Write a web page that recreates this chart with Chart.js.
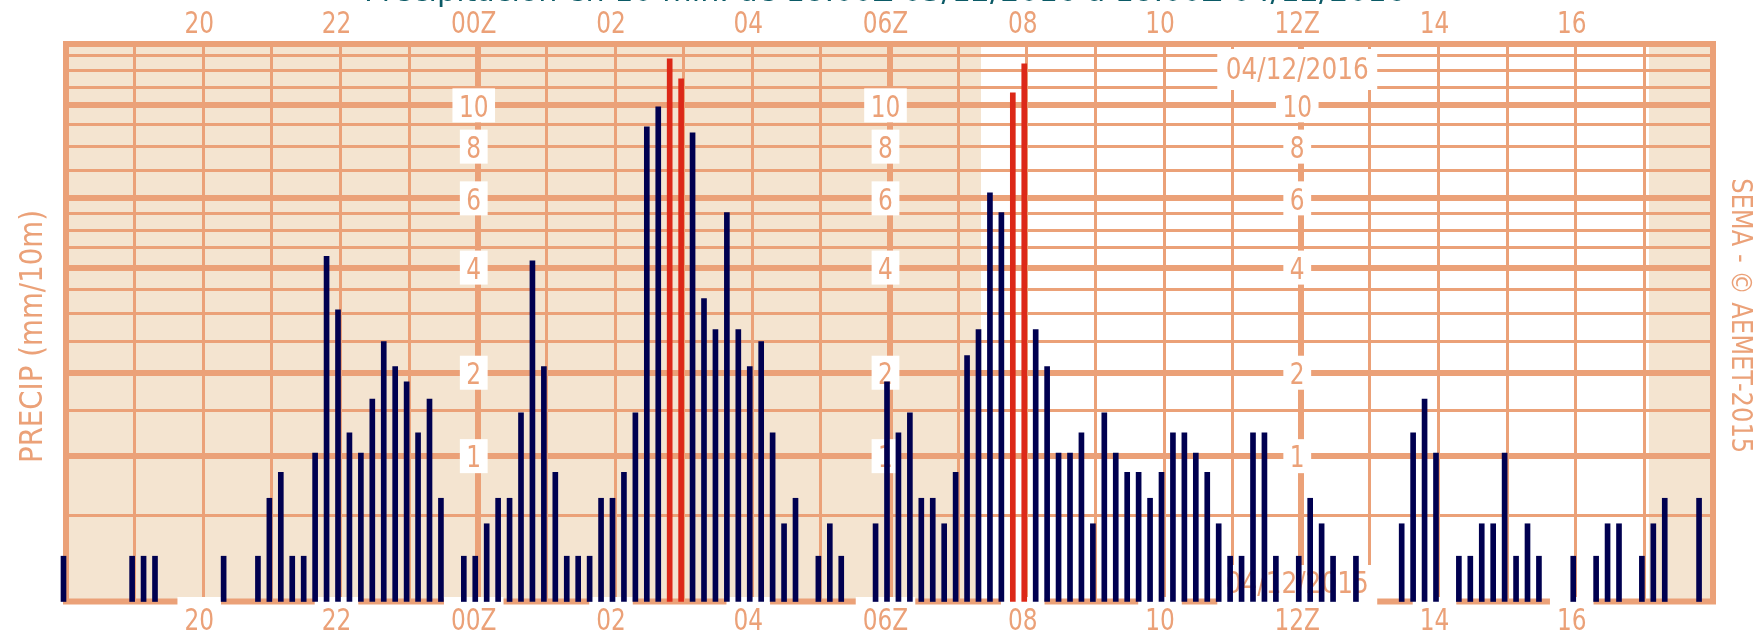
<!DOCTYPE html>
<html>
<head>
<meta charset="utf-8">
<title>Precipitación en 10 min.</title>
<script src="https://cdn.jsdelivr.net/npm/chart.js@4/dist/chart.umd.min.js"></script>
<style>
  html, body { margin: 0; padding: 0; background: #ffffff; }
  canvas { display: block; }
</style>
</head>
<body>
<canvas id="precip" width="1757" height="633"></canvas>
<script>
// ---- data: 10-minute precipitation (mm), 18:00Z 03/12 -> 18:00Z 04/12 ----
const barTimes = [
  "18:00","19:00","19:10","19:20","20:20","20:50","21:00","21:10","21:20","21:30","21:40","21:50",
  "22:00","22:10","22:20","22:30","22:40","22:50","23:00","23:10","23:20","23:30","23:50",
  "00:00","00:10","00:20","00:30","00:40","00:50","01:00","01:10","01:20","01:30","01:40","01:50",
  "02:00","02:10","02:20","02:30","02:40","02:50","03:00","03:10","03:20","03:30","03:40","03:50",
  "04:00","04:10","04:20","04:30","04:40","05:00","05:10","05:20","05:50",
  "06:00","06:10","06:20","06:30","06:40","06:50","07:00","07:10","07:20","07:30","07:40","07:50",
  "08:00","08:10","08:20","08:30","08:40","08:50","09:00","09:10","09:20","09:30","09:40","09:50",
  "10:00","10:10","10:20","10:30","10:40","10:50","11:00","11:10","11:20","11:30","11:40",
  "12:00","12:10","12:20","12:30","12:50","13:30","13:40","13:50",
  "14:00","14:20","14:30","14:40","14:50","15:00","15:10","15:20","15:30",
  "16:00","16:20","16:30","16:40","17:00","17:10","17:20","17:50"
];
const barValues = [
  0.23, 0.23, 0.23, 0.23, 0.23, 0.23, 0.63, 0.85, 0.23, 0.23, 1.03, 4.28,
  3.07, 1.24, 1.03, 1.64, 2.49, 2.09, 1.87, 1.24, 1.64, 0.63, 0.23,
  0.23, 0.44, 0.63, 0.63, 1.47, 4.17, 2.09, 0.85, 0.23, 0.23, 0.23, 0.63,
  0.63, 0.85, 1.47, 8.91, 9.92, 12.79, 11.51, 8.63, 3.30, 2.70, 5.53, 2.70,
  2.09, 2.49, 1.24, 0.44, 0.63, 0.23, 0.44, 0.23, 0.44,
  1.87, 1.24, 1.47, 0.63, 0.63, 0.44, 0.85, 2.26, 2.70, 6.19, 5.53, 10.69,
  12.46, 2.70, 2.09, 1.03, 1.03, 1.24, 0.44, 1.47, 1.03, 0.85, 0.85, 0.63,
  0.85, 1.24, 1.24, 1.03, 0.85, 0.44, 0.23, 0.23, 1.24, 1.24, 0.23,
  0.23, 0.63, 0.44, 0.23, 0.23, 0.44, 1.24, 1.64,
  1.03, 0.23, 0.23, 0.44, 0.44, 1.03, 0.23, 0.44, 0.23,
  0.23, 0.23, 0.44, 0.44, 0.23, 0.44, 0.63, 0.63
];
const highThreshold = 10;                 // values above this are drawn in red

// time axis: hours counted from 18:00Z of the first day
const axisStart = 18, axisEnd = 42;
const hourTicks      = [20, 22, 24, 26, 28, 30, 32, 34, 36, 38, 40];
const hourTickLabels = ["20", "22", "00Z", "02", "04", "06Z", "08", "10", "12Z", "14", "16"];
const majorHours     = [24, 30, 36];
const sunrise = "07:20", sunset = "17:04";

// precipitation axis (log(1+x) spacing); the frame sits a hair below zero
const yMin = -0.013, yMax = 13.82;
const yGridValues  = [0.5, 1, 1.5, 2, 2.5, 3, 3.5, 4, 4.5, 5, 5.5, 6, 7, 8, 9, 10, 11, 12, 13];
const yMajorValues = [1, 2, 4, 6, 10];
const yLabelValues = [1, 2, 4, 6, 8, 10];
const yLabelColumns = [24, 30, 36];       // 00Z, 06Z, 12Z

const titleText  = "Precipitación en 10 min. de 18:00Z 03/12/2016 a 18:00Z 04/12/2016";
const yTitleText = "PRECIP (mm/10m)";
const creditText = "SEMA - © AEMET-2015";
const dateTop = "04/12/2016", dateBottom = "04/12/2015";

// ---- styling ----
const C_GRID = '#eba178', C_TEXT = '#eba178', C_NIGHT = '#f4e4d0';
const C_BAR = '#000050', C_HIGH = '#dc2818', C_TITLE = '#0b5a66';
const FONT = '"DejaVu Sans", sans-serif';
const FS = 31, SQUEEZE = 0.75, CAP = 0.729 * FS;

function toHour(t) {
  const [h, m] = t.split(':').map(Number);
  return (h < axisStart ? h + 24 : h) + m / 60;
}

// scale with log(1+v) spacing
class Log1pScale extends Chart.LinearScale {
  getPixelForValue(value) {
    const lo = Math.log1p(this.min), hi = Math.log1p(this.max);
    return this.getPixelForDecimal((Math.log1p(value) - lo) / (hi - lo));
  }
  getValueForPixel(pixel) {
    const lo = Math.log1p(this.min), hi = Math.log1p(this.max);
    return Math.expm1(lo + this.getDecimalForPixel(pixel) * (hi - lo));
  }
}
Log1pScale.id = 'log1p';
Log1pScale.defaults = Chart.LinearScale.defaults;
Chart.register(Log1pScale);

function measure(ctx, s, fs) {
  ctx.font = fs + 'px ' + FONT;
  return ctx.measureText(s).width;
}
// text centred on cx, squeezed horizontally by k, rotated by angle
function drawText(ctx, s, cx, baseline, fs, k, color, angle) {
  ctx.save();
  ctx.font = fs + 'px ' + FONT;
  ctx.fillStyle = color;
  ctx.textAlign = 'center';
  ctx.textBaseline = 'alphabetic';
  ctx.translate(cx, baseline);
  if (angle) ctx.rotate(angle);
  ctx.scale(k, 1);
  ctx.fillText(s, 0, 0);
  ctx.restore();
}
function whiteBox(ctx, x0, y0, x1, y1) {
  ctx.save();
  ctx.fillStyle = '#ffffff';
  ctx.fillRect(x0, y0, x1 - x0, y1 - y0);
  ctx.restore();
}

const decorations = {
  id: 'decorations',
  beforeDraw(chart) {
    const { ctx, chartArea: a, scales: { x } } = chart;
    ctx.save();
    ctx.fillStyle = '#ffffff';
    ctx.fillRect(0, 0, chart.width, chart.height);
    ctx.fillStyle = C_NIGHT;
    const xr = x.getPixelForValue(toHour(sunrise));
    const xs = x.getPixelForValue(toHour(sunset));
    ctx.fillRect(a.left, a.top, xr - a.left, a.bottom - a.top);
    ctx.fillRect(xs, a.top, a.right - xs, a.bottom - a.top);
    ctx.restore();
  },
  beforeDatasetsDraw(chart) {
    const { ctx, chartArea: a, scales: { x, y } } = chart;
    const shift = -4;

    // frame
    ctx.save();
    ctx.strokeStyle = C_GRID;
    ctx.lineWidth = 6;
    ctx.strokeRect(a.left, a.top, a.right - a.left, a.bottom - a.top);
    ctx.restore();

    // value labels inside the plot
    yLabelColumns.forEach(h => {
      const cx = x.getPixelForValue(h) + shift;
      yLabelValues.forEach(v => {
        const s = String(v);
        const w = measure(ctx, s, FS) * SQUEEZE;
        const cy = y.getPixelForValue(v);
        whiteBox(ctx, cx - w / 2 - 6.5, cy - 17, cx + w / 2 + 6.5, cy + 17);
        drawText(ctx, s, cx, cy + CAP / 2, FS, SQUEEZE, C_TEXT);
      });
    });

    // dates at the 12Z column
    const dk = 0.8;
    const dx = x.getPixelForValue(36) + shift;
    const dwTop = measure(ctx, dateTop, FS) * dk;
    whiteBox(ctx, dx - dwTop / 2 - 8.5, 49, dx + dwTop / 2 + 8.5, 90);
    drawText(ctx, dateTop, dx, 79, FS, dk, C_TEXT);
    const dwBot = measure(ctx, dateBottom, FS) * dk;
    whiteBox(ctx, dx - dwBot / 2 - 8.5, 565, dx + dwBot / 2 + 8.5, 607);
    drawText(ctx, dateBottom, dx, 593, FS, dk, C_TEXT);

    // hour labels above and below the plot
    hourTicks.forEach((h, i) => {
      const s = hourTickLabels[i];
      const cx = x.getPixelForValue(h) + shift;
      const w = measure(ctx, s, FS) * SQUEEZE;
      whiteBox(ctx, cx - w / 2 - 7, a.bottom - 4.5, cx + w / 2 + 7, chart.height);
      drawText(ctx, s, cx, 630, FS, SQUEEZE, C_TEXT);
      drawText(ctx, s, cx, 33, FS, SQUEEZE, C_TEXT);
    });

    // title (top edge of the image)
    const tw = measure(ctx, titleText, FS);
    drawText(ctx, titleText, 885, 1, FS, 1042 / tw, C_TITLE);

    // axis title and credit, rotated
    const yw = measure(ctx, yTitleText, 32);
    drawText(ctx, yTitleText, 41.7, 336.5, 32, 253 / yw, C_TEXT, -Math.PI / 2);
    const cw = measure(ctx, creditText, 28);
    drawText(ctx, creditText, 1731.7, 315.7, 28, 275 / cw, C_TEXT, Math.PI / 2);
  },
  // bars sit just before their time stamp
  beforeDatasetDraw(chart) {
    chart.ctx.save();
    chart.ctx.translate(-2.5, 0);
  },
  afterDatasetDraw(chart) {
    chart.ctx.restore();
  }
};

const points = barTimes.map((t, i) => ({ x: toHour(t), y: barValues[i] }));

new Chart(document.getElementById('precip'), {
  type: 'bar',
  data: {
    datasets: [{
      data: points,
      backgroundColor: barValues.map(v => v > highThreshold ? C_HIGH : C_BAR),
      borderWidth: 0,
      barThickness: 5,
      base: yMin,
      clip: false
    }]
  },
  options: {
    responsive: false,
    animation: false,
    devicePixelRatio: 1,
    layout: { padding: { left: 66, top: 44, right: 1757 - 1713, bottom: 633 - 601.5 } },
    plugins: { legend: { display: false }, tooltip: { enabled: false } },
    scales: {
      x: {
        type: 'linear',
        min: axisStart,
        max: axisEnd,
        offset: false,
        ticks: { display: false },
        border: { display: false },
        grid: {
          offset: false,
          drawTicks: false,
          color: C_GRID,
          lineWidth: c => {
            const v = c.tick ? c.tick.value : 0;
            if (v === axisStart || v === axisEnd) return 0;
            return majorHours.includes(v) ? 6 : 3;
          }
        },
        afterBuildTicks: s => {
          const t = [];
          for (let h = axisStart; h <= axisEnd; h++) t.push({ value: h });
          s.ticks = t;
        }
      },
      y: {
        type: 'log1p',
        min: yMin,
        max: yMax,
        ticks: { display: false },
        border: { display: false },
        grid: {
          drawTicks: false,
          color: C_GRID,
          lineWidth: c => (c.tick && yMajorValues.includes(c.tick.value)) ? 6 : 3
        },
        afterBuildTicks: s => { s.ticks = yGridValues.map(v => ({ value: v })); }
      }
    }
  },
  plugins: [decorations]
});
</script>
</body>
</html>
